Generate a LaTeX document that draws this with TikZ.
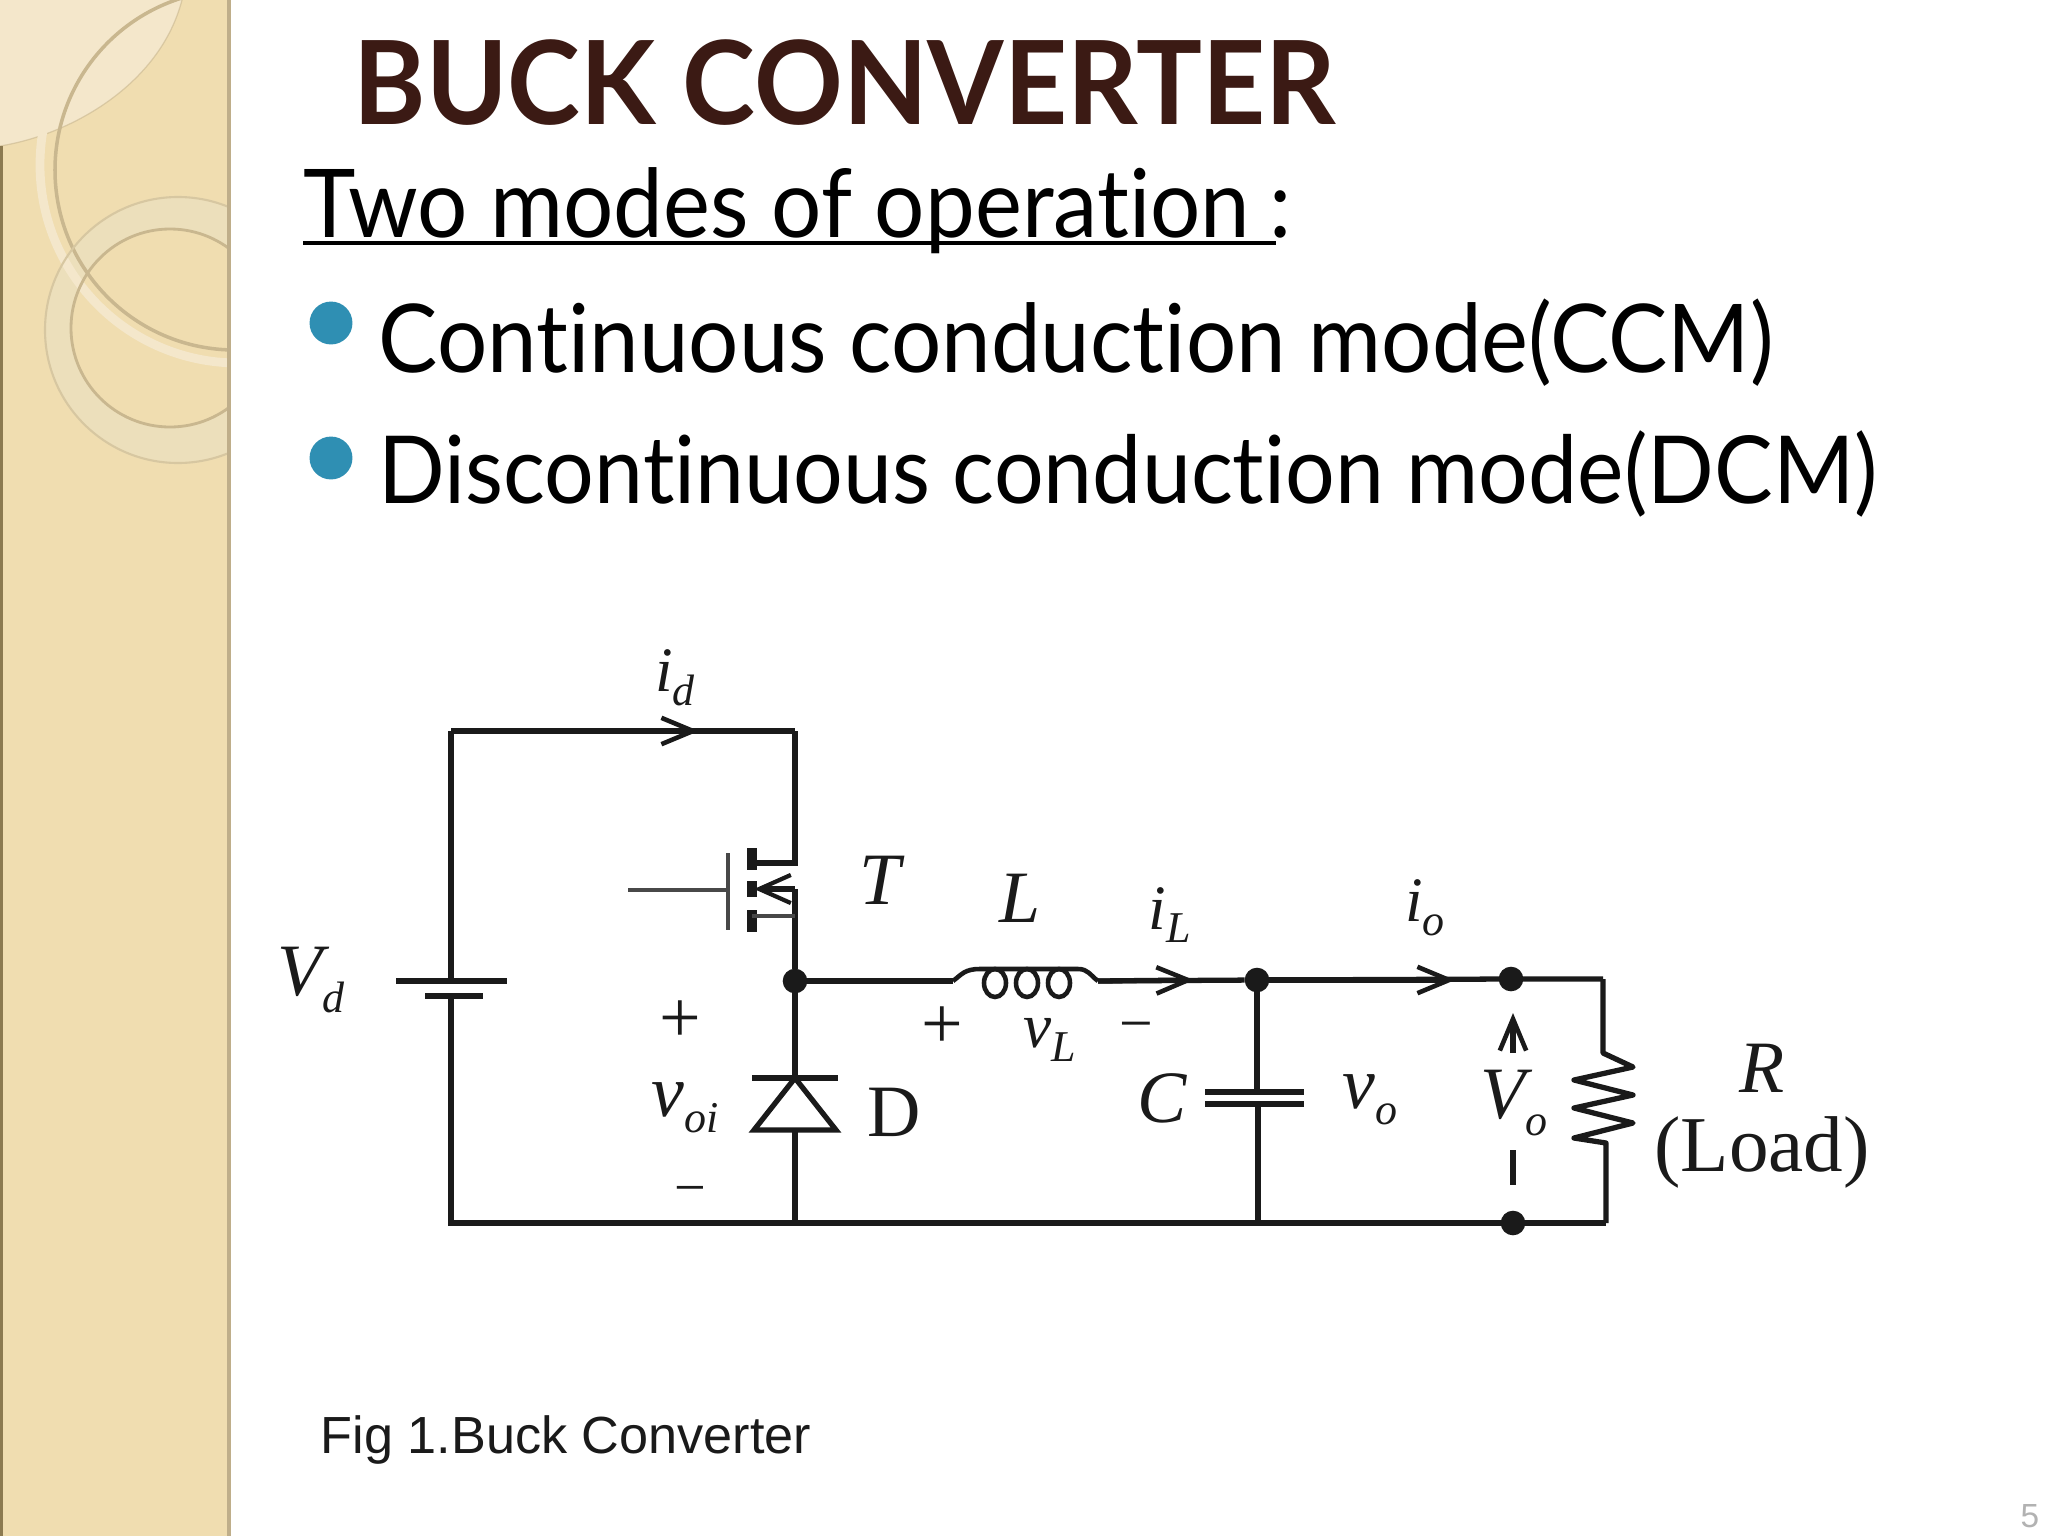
\documentclass[tikz,border=0pt]{standalone}
\usepackage{fontspec}
\usetikzlibrary{arrows.meta}
\setmainfont{Lato}
\newfontfamily\gl[FakeStretch=0.935,Ligatures=NoCommon]{Lato}
\newfontfamily\glt[FakeStretch=0.948,Ligatures=NoCommon]{Lato}
\newfontfamily\tm{Liberation Serif}
\newfontfamily\ar{Liberation Sans}
\definecolor{side}{HTML}{F0DDB0}
\definecolor{sidelt}{HTML}{F4E7CB}
\definecolor{ringc}{HTML}{ECDFBB}
\definecolor{ringl}{HTML}{C9B78F}
\definecolor{edge}{HTML}{BFAE8A}
\definecolor{leftedge}{HTML}{8C7A50}
\definecolor{bul}{HTML}{2F8FB3}
\definecolor{ttl}{HTML}{3B1A14}
\definecolor{ink}{HTML}{1A1A1A}
\newcommand{\lab}[2]{{\tm\itshape #1\raisebox{-.22em}{\fontsize{12.5}{14}\selectfont #2}}}
\tikzset{
  x=0.01cm,y=-0.01cm,
  wire/.style={line width=1.5pt,draw=ink},
  thinwire/.style={line width=1pt,draw=ink!80},
  plate/.style={line width=1.7pt,draw=ink},
  dot/.style={circle,fill=ink,inner sep=0pt,outer sep=0pt,minimum size=7pt},
  cur/.style={-{Straight Barb[length=9pt,width=7.5pt,line width=1.3pt]}},
  ctxt/.style={inner sep=0pt,font=\tm\fontsize{21}{24}\selectfont,text=ink},
  itxt/.style={inner sep=0pt,font=\tm\fontsize{18}{20}\selectfont,text=ink},
  slide/.style={inner sep=0pt,anchor=base west,text=black},
  bullet/.style={circle,fill=bul,inner sep=0pt,minimum size=12.2pt}
}
\begin{document}
\begin{tikzpicture}
\useasboundingbox (0,0) rectangle (2048,1536);
% slide background
\fill[white] (0,0) rectangle (2048,1536);
\begin{scope}
  \clip (0,0) rectangle (229,1536);
  \fill[side] (0,0) rectangle (229,1536);
  \fill[sidelt] (0,146) .. controls (70,135) and (160,85) .. (182,0) -- (0,0) -- cycle;
  \draw[ringl,line width=.35pt,opacity=.6] (0,146) .. controls (70,135) and (160,85) .. (182,0);
  \fill[ringc,even odd rule] (178,330) circle (133) (170,328) circle (99);
  \draw[sidelt,line width=2.5pt] (238,165) circle (198);
  \draw[ringl,line width=1pt] (235,170) circle (180);
  \draw[ringl!60!ringc,line width=.6pt] (178,330) circle (133);
  \draw[ringl,line width=.8pt] (170,328) circle (99);
\end{scope}
\fill[leftedge] (0,146) rectangle (3,1536);
\fill[edge] (227,0) rectangle (231,1536);
% title
\node[slide,text=ttl,font=\glt\fontsize{33}{36}\selectfont\bfseries] (title) at (353,124) {BUCK CONVERTER};
\node[slide,font=\gl\fontsize{27}{30}\selectfont] (modes) at (303,237) {Two modes of operation\hspace{.2em}:};
\coordinate (ua) at (303,243);
\coordinate (ub) at (1276,243);
\draw[line width=1.1pt,black] (ua) -- (ub);
\node[bullet] (b1) at (331,323) {};
\node[bullet] (b2) at (331,458) {};
\node[slide,font=\gl\fontsize{27}{30}\selectfont] (ccm) at (378,372) {Continuous conduction mode(CCM)};
\node[slide,font=\gl\fontsize{26.7}{30}\selectfont] (dcm) at (378,503) {Discontinuous conduction mode(DCM)};
\node[slide,font=\ar\fontsize{14.85}{18}\selectfont,text=ink] (fig) at (320,1453) {Fig 1.Buck Converter};
\node[inner sep=0pt,font=\ar\fontsize{9.5}{11}\selectfont,text=black!30] (pg) at (2030,1516) {5};
% circuit nodes
\coordinate (tl) at (451,731);
\coordinate (tr) at (795,731);
\coordinate (ba) at (451,981);
\coordinate (bb) at (451,996);
\coordinate (bl) at (451,1223);
\coordinate (dbot) at (795,1223);
\node[dot] (sw) at (795,981) {};
\node[dot] (nc) at (1257,980) {};
\node[dot] (no) at (1511,979) {};
\coordinate (cbot) at (1258,1223);
\node[dot] (nb) at (1513,1223) {};
\coordinate (rt) at (1603,979);
\coordinate (rb) at (1606,1223);
% source
\draw[wire] (tl) -- (ba) (bb) -- (bl) -- (dbot) -- (cbot) -- (nb.center) -- (rb);
\draw[plate] (396,981) -- (507,981);
\draw[plate] (425,996) -- (483,996);
\draw[wire] (tl) -- (tr);
\draw[wire,cur] (tl) -- (699,731);
% switch
\coordinate (gt) at (628,890);
\coordinate (gp) at (728,890);
\coordinate (dr) at (795,863);
\coordinate (ch) at (752,863);
\coordinate (so) at (795,889);
\coordinate (st) at (754,889);
\coordinate (sb) at (795,916);
\coordinate (sc) at (752,916);
\draw[thinwire] (gt) -- (gp);
\draw[thinwire] (728,853) -- (728,930);
\draw[line width=2.9pt,draw=ink] (752,848) -- (752,870) (752,881) -- (752,897) (752,910) -- (752,932);
\draw[wire] (tr) -- (dr) -- (ch);
\draw[wire] (sw) -- (so);
\draw[wire,-{Straight Barb[length=9pt,width=8pt,line width=1.2pt]}] (so) -- (st);
\draw[thinwire] (sb) -- (sc);
% diode
\coordinate (dk) at (795,1078);
\coordinate (da) at (795,1130);
\draw[wire] (sw) -- (dk);
\draw[wire] (752,1078) -- (838,1078);
\draw[wire,line join=miter] (dk) -- (836,1130) -- (754,1130) -- cycle;
\draw[wire] (da) -- (dbot);
% inductor
\coordinate (la) at (953,981);
\coordinate (lb) at (1098,981);
\draw[wire] (sw) -- (la);
\draw[line width=1.3pt,draw=ink] (la) .. controls (962,974) and (965,969) .. (980,969)
  -- (1078,969) .. controls (1088,969) and (1090,975) .. (lb);
\draw[line width=1.3pt,draw=ink] (995,983) ellipse (11 and 14);
\draw[line width=1.3pt,draw=ink] (1027,983) ellipse (11 and 14);
\draw[line width=1.3pt,draw=ink] (1059,983) ellipse (11 and 14);
\draw[wire] (lb) -- (nc);
\draw[wire,cur] (lb) -- (1194,980);
% capacitor
\draw[wire] (nc) -- (1257,1092);
\draw[wire] (1258,1104) -- (cbot);
\draw[plate] (1205,1092) -- (1304,1092);
\draw[plate] (1205,1104) -- (1304,1104);
% output line
\draw[wire] (nc) -- (no.center) -- (rt);
\draw[wire,cur] (nc) -- (1455,980);
% resistor
\draw[wire,line join=round] (rt) -- (1603,1053) -- (1633,1067) -- (1574,1080) -- (1633,1095) -- (1574,1108) -- (1633,1123) -- (1574,1138) -- (1606,1143) -- (rb);
% Vo arrow
\coordinate (va) at (1513,1053);
\coordinate (vb) at (1513,1013);
\draw[wire,cur] (va) -- (vb);
\draw[wire] (1513,1150) -- (1513,1185);
% labels
\node[itxt] (lid) at (675,678) {\lab{i}{d}};
\node[ctxt] (lvd) at (311,980) {\lab{V}{d}};
\node[ctxt] (lt) at (880,880) {\itshape T};
\node[ctxt] (ll) at (1020,898) {\itshape L};
\node[itxt] (lil) at (1170,915) {\lab{i}{L}};
\node[itxt] (lio) at (1425,908) {\lab{i}{o}};
\node[ctxt] (pvoi) at (680,1022) {+};
\node[ctxt] (pvl) at (942,1028) {+};
\node[itxt] (lvl) at (1050,1040) {\lab{v}{L}};
\node[ctxt] (mvl) at (1136,1033) {\fontsize{17}{17}\selectfont\textminus};
\node[ctxt] (mvoi) at (690,1196) {\fontsize{16}{16}\selectfont\textminus};
\node[ctxt] (lvoi) at (685,1108) {\lab{v}{oi}};
\node[ctxt] (ld) at (894,1112) {D};
\node[ctxt] (lc) at (1162,1098) {\itshape C};
\node[ctxt] (lvo) at (1370,1100) {\lab{v}{o}};
\node[ctxt] (lvoo) at (1514,1103) {\lab{V}{o}};
\node[ctxt] (lr) at (1762,1068) {\itshape R};
\node[inner sep=0pt,font=\tm\fontsize{22.5}{24}\selectfont,text=ink] (lload) at (1762,1152) {(Load)};
\end{tikzpicture}
\end{document}
